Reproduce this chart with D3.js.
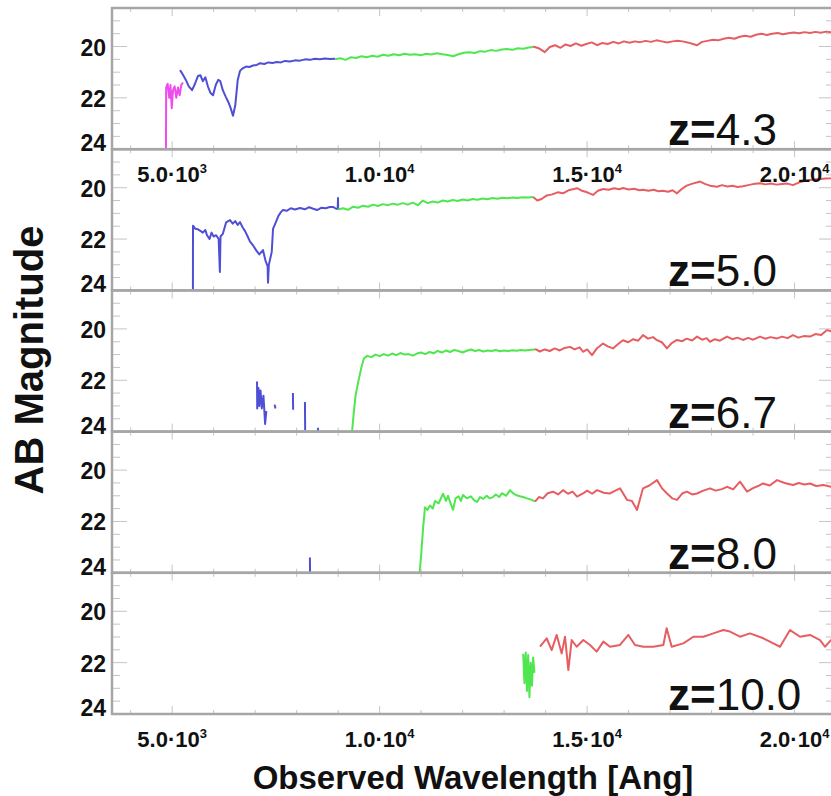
<!DOCTYPE html>
<html>
<head>
<meta charset="utf-8">
<script src="https://cdn.jsdelivr.net/npm/d3@7/dist/d3.min.js"></script>
<style>
  html, body { margin: 0; padding: 0; background: #fff; }
  svg { display: block; }
  text { font-family: "Liberation Sans", Arial, Helvetica, sans-serif; fill: #111; }
</style>
</head>
<body>
<svg id="chart" width="831" height="796"></svg>
<script>
// ---- Panel labels and axis ticks ----
const redshifts = ["4.3", "5.0", "6.7", "8.0", "10.0"];
const magMajorTicks = [20, 22, 24];
const magMinorTicks = [19, 19.5, 20.5, 21, 21.5, 22.5, 23, 23.5];
const waveMajorTicks = [5000, 10000, 15000, 20000];
const waveMinorTicks = [4000, 6000, 7000, 8000, 9000, 11000, 12000, 13000, 14000, 16000, 17000, 18000, 19000];
const waveTickMantissa = ["5.0", "1.0", "1.5", "2.0"];
const waveTickExponent = ["3", "4", "4", "4"];

// ---- Spectra: [observed wavelength (Ang), AB magnitude]; null breaks the line ----
const z43Magenta = [[4850,24.3],[4855,21.6],[4890,21.45],[4930,22.0],[4960,21.5],[4990,22.4],[5020,21.7],[5060,21.55],[5100,22.0],[5140,21.6],[5180,21.9],[5220,21.5],[5260,21.4]];
const z43Blue = [[5190,20.92],[5260,21.1],[5330,21.3],[5400,21.55],[5480,21.7],[5550,21.45],[5620,21.15],[5680,21.12],[5740,21.35],[5800,21.2],[5860,21.55],[5920,21.8],[5985,21.9],[6050,21.5],[6110,21.3],[6160,21.35],[6220,21.7],[6290,21.95],[6350,22.15],[6410,22.4],[6466,22.7],[6520,22.3],[6580,21.3],[6635,20.95],[6700,20.85],[6780,20.78],[6860,20.8],[6950,20.74],[7040,20.72],[7120,20.65],[7220,20.68],[7320,20.62],[7420,20.64],[7520,20.6],[7620,20.62],[7720,20.56],[7840,20.58],[7960,20.54],[8080,20.55],[8200,20.5],[8320,20.52],[8440,20.48],[8560,20.5],[8680,20.47],[8800,20.49],[8925,20.48]];
const z43Green = [[8925,20.5],[9050,20.46],[9180,20.52],[9300,20.42],[9430,20.45],[9560,20.38],[9690,20.42],[9820,20.36],[9950,20.4],[10080,20.32],[10210,20.36],[10340,20.3],[10470,20.34],[10600,20.28],[10730,20.32],[10860,20.3],[10990,20.34],[11120,20.28],[11250,20.31],[11380,20.26],[11510,20.3],[11640,20.33],[11770,20.38],[11900,20.3],[12030,20.24],[12160,20.22],[12290,20.25],[12420,20.18],[12550,20.2],[12680,20.14],[12810,20.17],[12940,20.12],[13070,20.1],[13200,20.13],[13330,20.07],[13460,20.09],[13590,20.04],[13700,20.02]];
const z43Red = [[13700,20.0],[13850,20.08],[13980,20.22],[14100,20.02],[14230,19.95],[14360,20.05],[14480,19.92],[14600,19.98],[14730,19.88],[14860,19.97],[14980,19.9],[15110,19.84],[15240,19.95],[15370,19.86],[15500,19.9],[15630,19.82],[15760,19.88],[15890,19.8],[16020,19.85],[16150,19.8],[16280,19.83],[16410,19.78],[16540,19.82],[16670,19.76],[16800,19.8],[16930,19.84],[17060,19.8],[17180,19.78],[17300,19.8],[17420,19.84],[17550,19.9],[17650,19.95],[17770,19.82],[17900,19.78],[18030,19.74],[18160,19.76],[18290,19.7],[18420,19.66],[18550,19.7],[18680,19.62],[18810,19.58],[18940,19.62],[19070,19.54],[19200,19.5],[19330,19.55],[19460,19.5],[19590,19.47],[19720,19.52],[19850,19.48],[19980,19.45],[20110,19.48],[20240,19.44],[20370,19.47],[20500,19.43],[20630,19.46],[20760,19.42],[20890,19.45],[21000,19.43]];

const z50Blue = [[5500,24.1],[5502,21.48],[5560,21.6],[5620,21.62],[5680,21.68],[5740,21.75],[5800,21.65],[5840,21.85],[5900,22.0],[5950,21.75],[6000,21.9],[6060,21.85],[6120,22.0],[6150,23.28],[6165,21.9],[6220,21.8],[6300,21.35],[6394,21.26],[6460,21.4],[6520,21.3],[6580,21.45],[6635,21.34],[6700,21.55],[6760,21.7],[6820,21.9],[6876,22.1],[6950,22.25],[7030,22.45],[7100,22.6],[7189,22.43],[7250,22.85],[7300,23.05],[7310,23.7],[7330,23.0],[7400,22.5],[7431,21.6],[7500,21.34],[7560,21.1],[7620,20.95],[7671,20.87],[7760,20.9],[7860,20.8],[7960,20.85],[8080,20.79],[8200,20.84],[8300,20.76],[8400,20.82],[8491,20.87],[8600,20.78],[8700,20.8],[8800,20.75],[8877,20.75],[8950,20.82],[8990,20.82],[8997,20.4],[9000,20.85]];
const z50Green = [[9000,20.85],[9120,20.8],[9240,20.86],[9360,20.74],[9480,20.78],[9600,20.7],[9720,20.74],[9840,20.66],[9960,20.71],[10080,20.64],[10200,20.68],[10320,20.62],[10440,20.66],[10560,20.6],[10680,20.66],[10800,20.58],[10920,20.68],[11040,20.5],[11160,20.6],[11280,20.54],[11400,20.58],[11520,20.5],[11640,20.54],[11760,20.48],[11880,20.52],[12000,20.46],[12120,20.5],[12240,20.44],[12360,20.47],[12480,20.42],[12600,20.45],[12720,20.4],[12840,20.43],[12960,20.39],[13080,20.41],[13200,20.38],[13320,20.4],[13440,20.37],[13580,20.38],[13700,20.36]];
const z50Red = [[13700,20.36],[13800,20.5],[13900,20.44],[14030,20.3],[14160,20.26],[14290,20.18],[14420,20.22],[14550,20.1],[14680,20.05],[14757,20.02],[14880,20.12],[15000,20.18],[15142,20.28],[15260,20.12],[15390,20.05],[15520,20.08],[15650,20.02],[15780,20.06],[15865,20.01],[16000,20.07],[16130,20.04],[16260,20.1],[16347,20.08],[16480,20.12],[16600,20.08],[16720,20.14],[16829,20.12],[16950,20.16],[17060,20.1],[17166,20.22],[17280,20.05],[17400,19.92],[17520,19.85],[17640,19.8],[17721,19.76],[17840,19.85],[17960,19.92],[18131,19.96],[18250,19.9],[18380,19.95],[18500,19.92],[18630,19.97],[18757,19.94],[18880,19.9],[19000,19.86],[19167,19.83],[19300,19.87],[19430,19.84],[19560,19.88],[19700,19.86],[19830,19.84],[19962,19.9],[20100,19.8],[20230,19.74],[20360,19.7],[20490,19.68],[20620,19.66],[20760,19.64],[20878,19.63],[21000,19.6]];

const z67Blue = [[7045,22.05],[7050,23.1],[7080,22.3],[7100,23.0],[7130,22.4],[7160,23.1],[7200,22.6],[7240,23.7],[7270,23.2],[7275,null],[7470,22.95],[7490,23.1],[7495,null],[7910,22.5],[7915,23.15],[7920,null],[8200,22.85],[8205,23.95],[8210,null],[8510,23.85],[8530,24.1]];
const z67Green = [[9330,24.1],[9380,23.2],[9420,22.6],[9480,22.1],[9560,21.5],[9620,21.15],[9700,21.05],[9800,21.1],[9900,21.0],[10000,21.06],[10100,20.98],[10200,21.04],[10300,20.96],[10400,21.02],[10500,20.94],[10600,21.0],[10700,20.98],[10800,21.04],[10900,20.96],[11000,20.92],[11100,20.98],[11200,20.9],[11300,20.95],[11400,20.86],[11500,20.92],[11600,20.84],[11700,20.9],[11800,20.82],[11900,20.86],[12000,20.92],[12100,20.85],[12200,20.8],[12300,20.86],[12400,20.82],[12500,20.88],[12600,20.84],[12700,20.86],[12800,20.82],[12900,20.87],[13000,20.84],[13100,20.86],[13200,20.83],[13300,20.85],[13400,20.82],[13500,20.84],[13600,20.82],[13745,20.8]];
const z67Red = [[13745,20.78],[13860,20.88],[13980,20.8],[14100,20.86],[14220,20.76],[14340,20.84],[14460,20.74],[14588,20.7],[14700,20.8],[14820,20.72],[14901,20.89],[15000,20.8],[15118,21.02],[15240,20.75],[15383,20.57],[15500,20.68],[15624,20.76],[15740,20.6],[15865,20.44],[15990,20.52],[16110,20.4],[16230,20.46],[16347,20.24],[16470,20.38],[16590,20.32],[16684,20.44],[16800,20.52],[16925,20.76],[17040,20.55],[17166,20.43],[17290,20.48],[17400,20.38],[17530,20.45],[17649,20.3],[17770,20.42],[17880,20.36],[17962,20.5],[18080,20.4],[18200,20.46],[18372,20.3],[18500,20.4],[18620,20.34],[18757,20.43],[18880,20.35],[19000,20.42],[19167,20.3],[19290,20.38],[19420,20.32],[19577,20.37],[19700,20.3],[19830,20.36],[19962,20.24],[20090,20.34],[20220,20.28],[20372,20.3],[20500,20.2],[20640,20.24],[20782,20.04],[20900,20.1],[21000,20.02]];

const z80Blue = [[8320,23.4],[8323,24.1]];
const z80Green = [[10960,24.1],[11000,23.3],[11050,22.2],[11093,21.45],[11150,21.55],[11214,21.38],[11280,21.5],[11334,21.2],[11420,21.3],[11527,20.92],[11600,21.2],[11648,21.0],[11700,21.25],[11768,21.55],[11830,21.1],[11900,21.02],[11960,21.2],[12009,20.97],[12100,21.1],[12200,21.02],[12280,21.18],[12347,21.24],[12420,21.05],[12500,21.12],[12580,21.0],[12650,21.1],[12732,21.05],[12800,20.95],[12880,21.05],[12950,20.9],[13050,21.0],[13142,20.78],[13230,20.92],[13300,20.98],[13380,21.02],[13455,21.05],[13550,21.1],[13650,21.15],[13744,21.22]];
const z80Red = [[13744,21.23],[13840,21.05],[13937,21.1],[14050,20.9],[14178,20.84],[14300,20.95],[14419,20.78],[14540,20.92],[14650,20.84],[14757,21.03],[14901,20.91],[15000,20.8],[15120,20.92],[15239,20.78],[15400,20.88],[15552,20.91],[15680,20.8],[15793,20.71],[15962,21.16],[16080,21.2],[16203,21.55],[16347,20.71],[16500,20.6],[16685,20.39],[16800,20.7],[16926,20.91],[17050,21.1],[17167,21.16],[17300,20.9],[17408,20.84],[17530,20.95],[17649,20.91],[17800,20.8],[17962,20.71],[18100,20.8],[18250,20.74],[18372,20.65],[18520,20.75],[18685,20.45],[18854,20.84],[19000,20.7],[19120,20.62],[19239,20.52],[19400,20.6],[19577,20.39],[19760,20.5],[19962,20.58],[20100,20.5],[20240,20.56],[20372,20.52],[20520,20.62],[20700,20.58],[20878,20.65],[21000,20.62]];

const z100Green = [[13460,21.65],[13490,22.8],[13520,21.6],[13550,23.1],[13580,21.7],[13610,23.35],[13640,22.0],[13670,22.9],[13700,21.8],[13730,22.4]];
const z100Red = [[13865,21.38],[14025,21.05],[14146,21.51],[14267,20.92],[14387,21.64],[14467,20.99],[14548,22.29],[14628,21.12],[14749,21.38],[14909,21.12],[15070,21.31],[15230,21.57],[15391,21.18],[15552,21.38],[15793,21.31],[15994,20.92],[16154,21.31],[16355,21.38],[16596,21.38],[16837,21.31],[16917,20.66],[17038,21.38],[17319,21.25],[17560,20.99],[17801,20.99],[18042,20.86],[18283,20.73],[18444,20.79],[18685,20.99],[18926,20.86],[19247,21.05],[19488,21.25],[19649,21.38],[19890,20.73],[20131,20.99],[20372,20.92],[20613,21.12],[20733,21.38],[20878,21.12],[21000,21.2]];

const bandColors = { magenta: "#ee4cee", blue: "#4f4fd6", green: "#4fe64f", red: "#e65e62" };

const panelSpectra = [
  [["magenta", z43Magenta], ["blue", z43Blue], ["green", z43Green], ["red", z43Red]],
  [["blue", z50Blue], ["green", z50Green], ["red", z50Red]],
  [["blue", z67Blue], ["green", z67Green], ["red", z67Red]],
  [["blue", z80Blue], ["green", z80Green], ["red", z80Red]],
  [["green", z100Green], ["red", z100Red]]
];

// ---- Layout ----
const svg = d3.select("#chart");
const left = 112, right = 834;
const top0 = 8, panelH = 141.2;
const frameColor = "#a6a6a6", tickColor = "#c4c4c4";

const x = d3.scaleLinear().domain([3550, 20950]).range([left, right]);

redshifts.forEach((zLabel, i) => {
  const pTop = top0 + i * panelH;
  const pBot = pTop + panelH;
  const y = d3.scaleLinear().domain([18.5, 24]).range([pTop, pBot]);
  const g = svg.append("g");

  const clipId = "clip" + i;
  svg.append("clipPath").attr("id", clipId)
    .append("rect").attr("x", left).attr("y", pTop).attr("width", right - left).attr("height", panelH);

  // Spectra
  const line = d3.line()
    .defined(d => d[1] != null)
    .x(d => x(d[0]))
    .y(d => y(d[1]));
  panelSpectra[i].forEach(([band, data]) => {
    g.append("path")
      .datum(data)
      .attr("clip-path", `url(#${clipId})`)
      .attr("fill", "none")
      .attr("stroke", bandColors[band])
      .attr("stroke-width", 2)
      .attr("stroke-linejoin", "round")
      .attr("d", line);
  });

  // Magnitude ticks on both sides, pointing inward
  const ticks = g.append("g").attr("stroke", tickColor).attr("stroke-width", 1);
  magMajorTicks.forEach(m => {
    ticks.append("line").attr("x1", left).attr("x2", left + 15).attr("y1", y(m)).attr("y2", y(m));
    ticks.append("line").attr("x1", right).attr("x2", right - 15).attr("y1", y(m)).attr("y2", y(m));
  });
  magMinorTicks.forEach(m => {
    ticks.append("line").attr("x1", left).attr("x2", left + 8).attr("y1", y(m)).attr("y2", y(m));
    ticks.append("line").attr("x1", right).attr("x2", right - 8).attr("y1", y(m)).attr("y2", y(m));
  });
  // Wavelength ticks on top and bottom
  waveMajorTicks.forEach(w => {
    ticks.append("line").attr("x1", x(w)).attr("x2", x(w)).attr("y1", pBot).attr("y2", pBot - 8);
    ticks.append("line").attr("x1", x(w)).attr("x2", x(w)).attr("y1", pTop).attr("y2", pTop + 8);
  });
  waveMinorTicks.forEach(w => {
    ticks.append("line").attr("x1", x(w)).attr("x2", x(w)).attr("y1", pBot).attr("y2", pBot - 4);
    ticks.append("line").attr("x1", x(w)).attr("x2", x(w)).attr("y1", pTop).attr("y2", pTop + 4);
  });

  // Frame
  g.append("rect")
    .attr("x", left).attr("y", pTop).attr("width", right - left).attr("height", panelH)
    .attr("fill", "none").attr("stroke", frameColor).attr("stroke-width", 2.5);

  // Magnitude tick labels
  magMajorTicks.forEach((m, k) => {
    g.append("text")
      .attr("x", 106)
      .attr("y", y(m) + (k === magMajorTicks.length - 1 ? -6 : 1))
      .attr("text-anchor", "end")
      .attr("dominant-baseline", "central")
      .style("font-size", "23px").style("font-weight", "bold")
      .text(m);
  });

  // Redshift label
  const zt = svg.append("text")
    .attr("x", 668).attr("y", pBot - 4)
    .style("font-size", "44px");
  zt.append("tspan").style("font-weight", "bold").text("z=");
  zt.append("tspan").style("font-weight", "normal").text(zLabel);
});

// Wavelength tick labels under the first and last panels
[0, redshifts.length - 1].forEach(i => {
  const pBot = top0 + (i + 1) * panelH;
  waveMajorTicks.forEach((w, k) => {
    const t = svg.append("text")
      .attr("x", x(w)).attr("y", pBot + 33)
      .attr("text-anchor", "middle")
      .style("font-size", "22px").style("font-weight", "bold");
    t.append("tspan").text(waveTickMantissa[k] + "\u00B710");
    t.append("tspan").attr("dy", -9).style("font-size", "13px").text(waveTickExponent[k]);
  });
});

// Axis titles
svg.append("text")
  .attr("transform", "translate(43,360) rotate(-90)")
  .attr("text-anchor", "middle")
  .style("font-size", "40px").style("font-weight", "bold")
  .text("AB Magnitude");

svg.append("text")
  .attr("x", 473).attr("y", 789)
  .attr("text-anchor", "middle")
  .style("font-size", "33px").style("font-weight", "bold")
  .text("Observed Wavelength [Ang]");
</script>
</body>
</html>
